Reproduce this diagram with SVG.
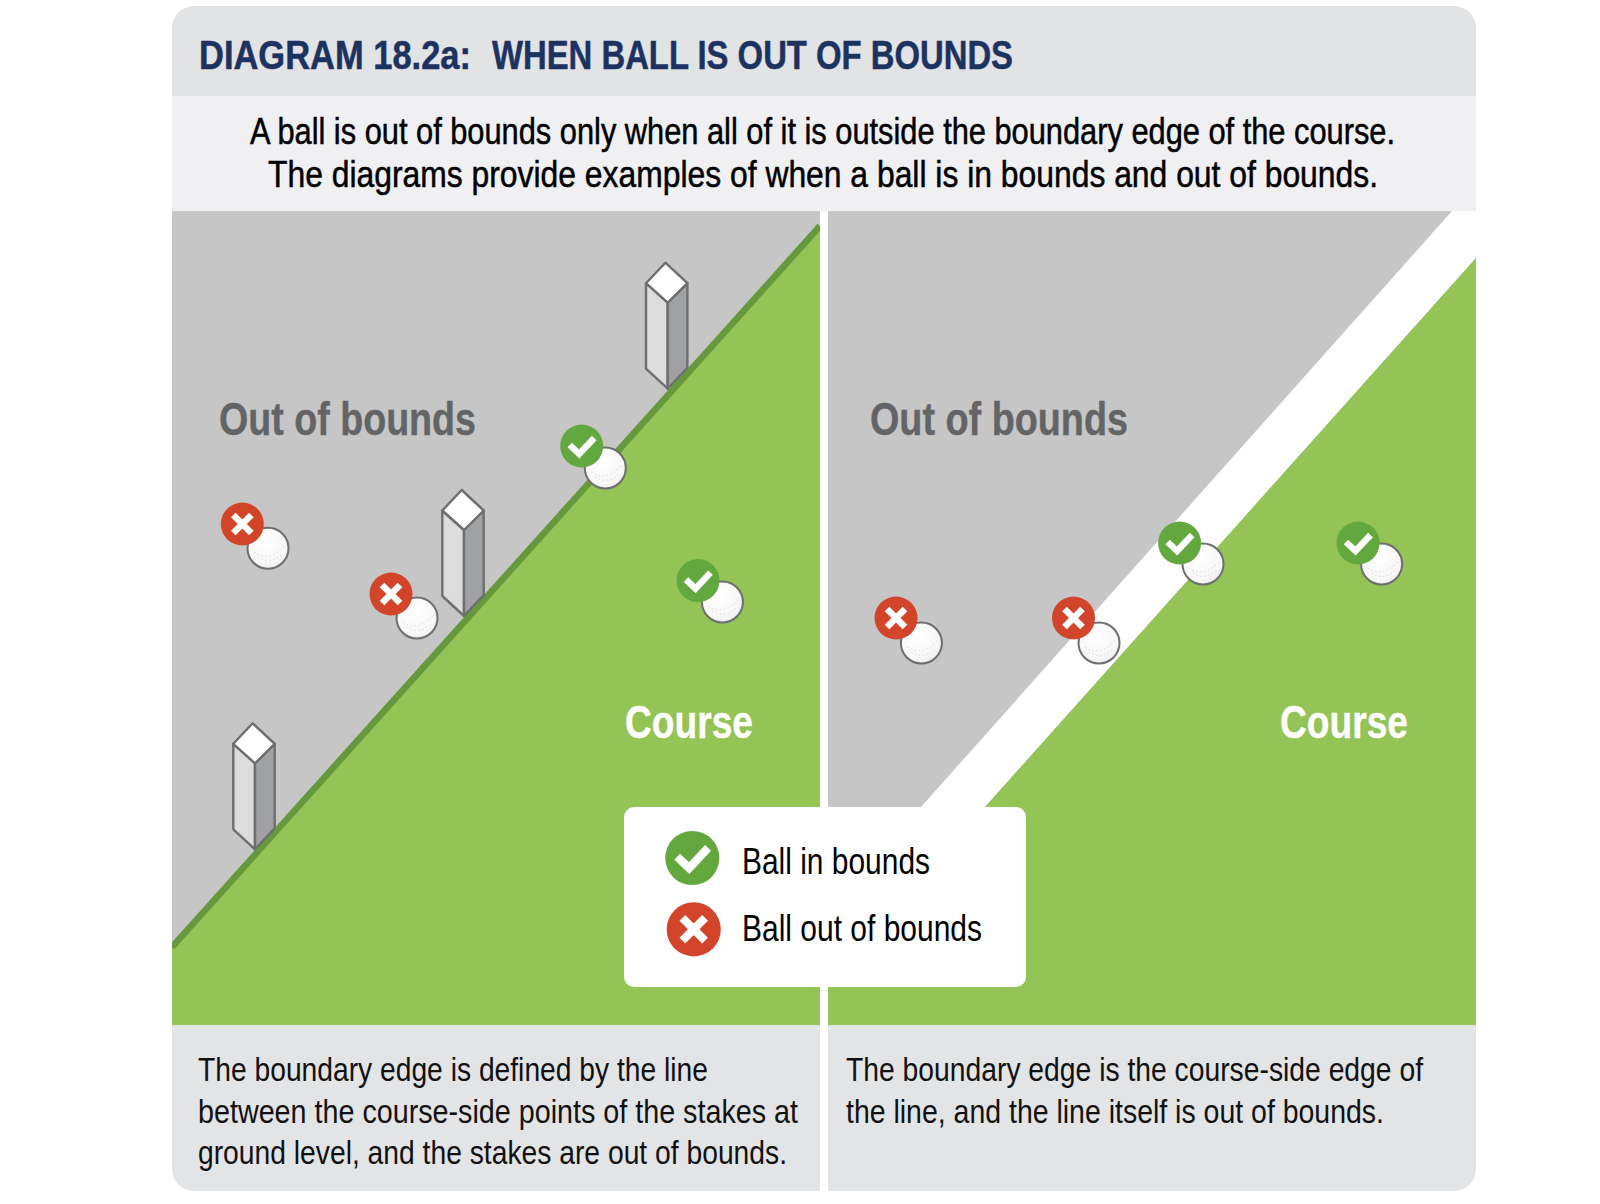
<svg xmlns="http://www.w3.org/2000/svg" width="1600" height="1204" viewBox="0 0 1600 1204">
<style>
text{font-family:"Liberation Sans Narrow","Liberation Sans",Arial,sans-serif;fill:#000;}
.title{font-size:40.500px;font-weight:700;fill:#1c3260;stroke:#1c3260;stroke-width:.5px;}
.sub{font-size:36px;stroke:#000;stroke-width:.5px;}
.cap{font-size:34px;fill:#111;}
.big{font-size:47px;font-weight:700;}
.oob{fill:#636466;stroke:#636466;stroke-width:.4px;}
.crs{fill:#fff;stroke:#fff;stroke-width:.4px;}
.leg{font-size:37px;}
.sw{stroke:#6d6e70;stroke-width:2.400;stroke-linejoin:round;}
</style>
<defs>
<clipPath id="panel"><rect x="172" y="6" width="1304" height="1185" rx="22"/></clipPath>
<radialGradient id="ballg" cx="42%" cy="35%" r="75%"><stop offset="0" stop-color="#fff"/><stop offset=".7" stop-color="#f7f7f7"/><stop offset="1" stop-color="#e8e8e8"/></radialGradient>
<g id="ball"><circle r="20.500" fill="url(#ballg)" stroke="#6d6e70" stroke-width="2"/><path d="M-14 4Q0 14 16 -2M-10 9Q2 17 14 6" fill="none" stroke="#e0e0e0" stroke-width="1.200" stroke-dasharray="1.500 2.500"/></g>
<g id="xm"><circle r="21.500" fill="#d2452b"/><path d="M-9-9L9 9M9-9L-9 9" stroke="#fff" stroke-width="6.500" fill="none"/></g>
<g id="ck"><circle r="21.500" fill="#62a83f"/><path d="M-12-1L-2.500 8L12.500-8" stroke="#fff" stroke-width="6.500" fill="none"/></g>
<g id="stake">
<path class="sw" d="M442.300 510.500L464 530V616L442.300 596Z" fill="#dcdcdd"/>
<path class="sw" d="M483.700 510.500L464 530V616L483.700 595Z" fill="#a0a1a3"/>
<path class="sw" d="M461.700 490L483.700 510.500L464 530L442.300 510.500Z" fill="#fff"/>
</g>
</defs>
<rect width="1600" height="1204" fill="#fff"/>
<g id="background" clip-path="url(#panel)">
<rect x="172" y="6" width="1304" height="90" fill="#e2e3e5"/>
<rect x="172" y="96" width="1304" height="115" fill="#f0f0f3"/>
<rect x="172" y="211" width="648" height="814" fill="#c6c6c6"/>
<rect x="828" y="211" width="648" height="814" fill="#c6c6c6"/>
<path d="M172 947L820 226V1025H172Z" fill="#94c356"/>
<path d="M172 947L820 226" stroke="#66983c" stroke-width="6.500" fill="none"/>
<path d="M1452 211H1476V258L985 807V1025H921V807Z" fill="#fff"/>
<path d="M1476 258V1025H828V807H985Z" fill="#94c356"/>
<rect x="172" y="1025" width="1304" height="166" fill="#e3e4e6"/>
<rect x="820" y="211" width="8" height="980" fill="#fff"/>
</g>
<text class="title" x="199" y="69" textLength="272" lengthAdjust="spacingAndGlyphs">DIAGRAM 18.2a:</text>
<text class="title" x="492" y="69" textLength="521" lengthAdjust="spacingAndGlyphs">WHEN BALL IS OUT OF BOUNDS</text>
<text class="sub" x="250" y="144" textLength="1145" lengthAdjust="spacingAndGlyphs">A ball is out of bounds only when all of it is outside the boundary edge of the course.</text>
<text class="sub" x="268" y="187" textLength="1110" lengthAdjust="spacingAndGlyphs">The diagrams provide examples of when a ball is in bounds and out of bounds.</text>
<g id="left-labels">
<text class="big oob" x="219" y="435" textLength="257" lengthAdjust="spacingAndGlyphs">Out of bounds</text>
<text class="big crs" x="625" y="738" textLength="128" lengthAdjust="spacingAndGlyphs">Course</text>
</g>
<g id="right-labels">
<text class="big oob" x="870" y="435" textLength="258" lengthAdjust="spacingAndGlyphs">Out of bounds</text>
<text class="big crs" x="1280" y="738" textLength="128" lengthAdjust="spacingAndGlyphs">Course</text>
</g>
<g id="stake-1"><use href="#stake" x="203.700" y="-227.300"/></g>
<g id="stake-2"><use href="#stake"/></g>
<g id="stake-3"><use href="#stake" x="-209" y="233.300"/></g>
<g id="ball-l1"><use href="#ball" x="268" y="548.300"/><use href="#xm" x="242.300" y="524"/></g>
<g id="ball-l2"><use href="#ball" x="417" y="618"/><use href="#xm" x="391" y="594"/></g>
<g id="ball-l3"><use href="#ball" x="605.300" y="468"/><use href="#ck" x="581.700" y="446"/></g>
<g id="ball-l4"><use href="#ball" x="722.400" y="602"/><use href="#ck" x="698" y="580.600"/></g>
<g id="ball-r1"><use href="#ball" x="921.400" y="643"/><use href="#xm" x="896" y="618"/></g>
<g id="ball-r2"><use href="#ball" x="1099" y="643"/><use href="#xm" x="1073.500" y="618"/></g>
<g id="ball-r3"><use href="#ball" x="1203" y="564"/><use href="#ck" x="1179.600" y="543"/></g>
<g id="ball-r4"><use href="#ball" x="1381.600" y="564"/><use href="#ck" x="1358" y="543"/></g>
<g id="legend">
<rect x="624" y="807" width="402" height="180" rx="10" fill="#fff"/>
<use href="#ck" transform="translate(692.300 858) scale(1.260)"/>
<use href="#xm" transform="translate(693.700 929.300) scale(1.260)"/>
<text class="leg" x="742" y="874" textLength="188" lengthAdjust="spacingAndGlyphs">Ball in bounds</text>
<text class="leg" x="742" y="941" textLength="240" lengthAdjust="spacingAndGlyphs">Ball out of bounds</text>
</g>
<g id="caption-left">
<text class="cap" x="198" y="1081" textLength="510" lengthAdjust="spacingAndGlyphs">The boundary edge is defined by the line</text>
<text class="cap" x="198" y="1123" textLength="600" lengthAdjust="spacingAndGlyphs">between the course-side points of the stakes at</text>
<text class="cap" x="198" y="1164" textLength="589" lengthAdjust="spacingAndGlyphs">ground level, and the stakes are out of bounds.</text>
</g>
<g id="caption-right">
<text class="cap" x="846" y="1081" textLength="577" lengthAdjust="spacingAndGlyphs">The boundary edge is the course-side edge of</text>
<text class="cap" x="846" y="1123" textLength="538" lengthAdjust="spacingAndGlyphs">the line, and the line itself is out of bounds.</text>
</g>
</svg>
